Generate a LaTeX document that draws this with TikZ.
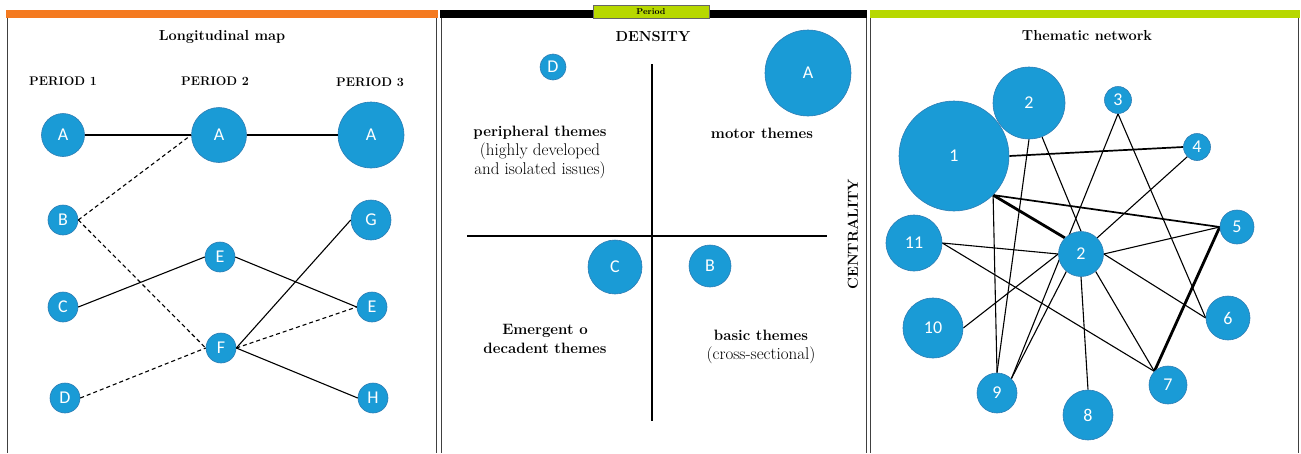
\documentclass[tikz,border=0pt]{standalone}
\usepackage{fontspec}
\newfontfamily\labelfont{Carlito}
\usetikzlibrary{backgrounds}
\definecolor{nodeblue}{RGB}{26,155,214}
\definecolor{nodeedge}{RGB}{45,125,180}
\definecolor{barorange}{RGB}{244,122,32}
\definecolor{bargreen}{RGB}{183,216,0}

\begin{document}
\begin{tikzpicture}[x=1pt,y=-1pt,
    theme/.style={circle,fill=nodeblue,draw=nodeedge,line width=0.6pt,inner sep=0pt,
      minimum size=#1,text=white,font=\labelfont\fontsize{18}{18}\selectfont},
    link/.style={line width=1.1pt},
    tie/.style={line width=1.1pt,dash pattern=on 4pt off 3pt},
    strong/.style={line width=1.7pt},
    heavy/.style={line width=2.8pt},
    heading/.style={font=\bfseries\fontsize{14.5}{16}\selectfont},
    periodlabel/.style={font=\bfseries\fontsize{12.5}{14}\selectfont},
    quadrant/.style={align=center,font=\fontsize{17}{19}\selectfont},
    panel/.style={line width=1pt,draw=black!75}]
  \useasboundingbox (0,0) rectangle (1301,453);
  % bars and frames
  \fill[barorange] (6,10) rectangle (438,18);
  \fill[black] (440,10) rectangle (867,18);
  \fill[bargreen] (870,10) rectangle (1300,18);
  \draw[panel] (7,18) -- (7,453) (436,18) -- (436,453);
  \draw[panel] (441,18) -- (441,453) (866,18) -- (866,453);
  \draw[panel] (870,18) -- (870,453) (1298,18) -- (1298,453);
  \node[draw=black!60,fill=bargreen,minimum width=116pt,minimum height=13pt,inner sep=0pt,
    font=\bfseries\fontsize{8.5}{8.5}\selectfont] (period) at (651,11.5) {Period};

  % longitudinal map
  \node[heading] (maptitle) at (222,37) {Longitudinal map};
  \node[periodlabel] (per1) at (63,81) {PERIOD 1};
  \node[periodlabel] (per2) at (215,81) {PERIOD 2};
  \node[periodlabel] (per3) at (370,82) {PERIOD 3};
  \node[theme=43] (p1a) at (63,135) {A};
  \node[theme=55] (p2a) at (219,135) {A};
  \node[theme=66] (p3a) at (371,135) {A};
  \node[theme=30] (p1b) at (63,220) {B};
  \node[theme=40] (p3g) at (371,220) {G};
  \node[theme=30] (p2e) at (220,257) {E};
  \node[theme=30] (p1c) at (63,307) {C};
  \node[theme=30] (p3e) at (372,307) {E};
  \node[theme=30] (p2f) at (221,348) {F};
  \node[theme=30] (p1d) at (65,398) {D};
  \node[theme=30] (p3h) at (373,398) {H};
  \draw[link] (p1a) -- (p2a);
  \draw[link] (p2a) -- (p3a);
  \draw[tie] (p1b.east) -- (p2a.west);
  \draw[tie] (p1b.east) -- (p2f.west);
  \draw[link] (p1c.east) -- (p2e.west);
  \draw[tie] (p1d.east) -- (p2f.west);
  \draw[link] (p2e.east) -- (p3e.west);
  \draw[link] (p2f.east) -- (p3g.west);
  \draw[tie] (p2f.east) -- (p3e.west);
  \draw[link] (p2f.east) -- (p3h.west);

  % strategic diagram
  \node[heading] (density) at (653,37) {DENSITY};
  \node[heading,rotate=90] (centrality) at (853,234) {CENTRALITY};
  \coordinate (ytop) at (652,64);
  \coordinate (ybot) at (652,421);
  \coordinate (xleft) at (467,236);
  \coordinate (xright) at (827,236);
  \draw[line width=1.3pt] (ytop) -- (ybot);
  \draw[line width=1.3pt] (xleft) -- (xright);
  \node[theme=26] (qd) at (553,67) {D};
  \node[theme=86] (qa) at (808,73) {A};
  \node[theme=54] (qc) at (615,267) {C};
  \node[theme=42] (qb) at (710,266) {B};
  \node[quadrant] (periph) at (540,152)
    {\textbf{\fontsize{15}{19}\selectfont peripheral themes}\\(highly developed\\and isolated issues)};
  \node[quadrant] (motor) at (762,133) {\textbf{\fontsize{15}{19}\selectfont motor themes}};
  \node[quadrant] (emergent) at (545,339)
    {\textbf{\fontsize{15}{19}\selectfont Emergent o}\\\textbf{\fontsize{15}{19}\selectfont decadent themes}};
  \node[quadrant] (basic) at (761,347)
    {\textbf{\fontsize{15}{19}\selectfont basic themes}\\(cross-sectional)};

  % thematic network
  \node[heading] (nettitle) at (1087,36) {Thematic network};
  \node[theme=110] (t1) at (954,156) {1};
  \node[theme=72] (t2) at (1029,103) {2};
  \node[theme=27] (t3) at (1118,100) {3};
  \node[theme=27] (t4) at (1197,147) {4};
  \node[theme=34] (t5) at (1237,227) {5};
  \node[theme=45] (hub) at (1081,254) {2};
  \node[theme=56] (t11) at (914,243) {11};
  \node[theme=60] (t10) at (933,328) {10};
  \node[theme=44] (t6) at (1228,318) {6};
  \node[theme=40] (t9) at (997,393) {9};
  \node[theme=50] (t8) at (1088,415) {8};
  \node[theme=38] (t7) at (1168,385) {7};
  \begin{scope}[on background layer]
    \draw[strong] (t1.east) -- (t4.west);
    \draw[strong] (t1.south east) -- (t5.west);
    \draw[heavy] (t1.south east) -- (hub.north west);
    \draw[link] (t1.south east) -- (t9.north);
    \draw[link] (t2.south) -- (t9.north);
    \draw[link] (t2.-69) -- (hub.north);
    \draw[link] (t3.south) -- (t9.north east);
    \draw[link] (t3.south) -- (t6.west);
    \draw[link] (hub.north east) -- (t4.south west);
    \draw[link] (hub.east) -- (t5.west);
    \draw[link] (hub.east) -- (t6.west);
    \draw[link] (hub.-50) -- (t7.north west);
    \draw[link] (hub.south) -- (t8.north);
    \draw[link] (hub.-130) -- (t9.north east);
    \draw[link] (hub.west) -- (t10.east);
    \draw[link] (t11.east) -- (hub.west);
    \draw[link] (t11.east) -- (t7.north west);
    \draw[heavy] (t5.west) -- (t7.north west);
  \end{scope}
\end{tikzpicture}
\end{document}
